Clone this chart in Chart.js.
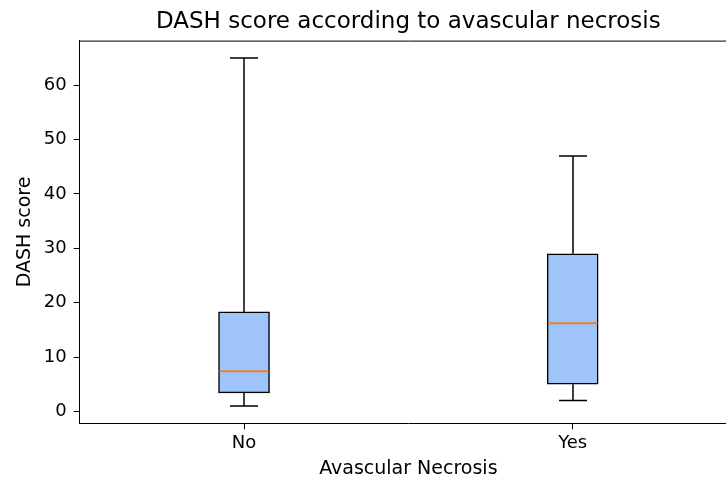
<!DOCTYPE html>
<html>
<head>
<meta charset="utf-8">
<script src="https://cdn.jsdelivr.net/npm/chart.js@4.4.1/dist/chart.umd.min.js"></script>
<style>
  html, body { margin: 0; padding: 0; background: #fff; overflow: hidden; }
  /* plot frame runs past the right edge of the window, like the reference crop */
  #wrap { width: 760px; height: 479px; }
</style>
</head>
<body>
<div id="wrap"><canvas id="chart"></canvas></div>
<script>
// box plot stats
const groups = ["No", "Yes"];
const whiskerLow = [1, 2];
const q1 = [3.4, 5.0];
const median = [7.4, 16.2];
const q3 = [18.3, 29.0];
const whiskerHigh = [65, 47];
const yTicks = [0, 10, 20, 30, 40, 50, 60];

const FONT = "'DejaVu Sans', sans-serif";
const BOX_W = 51;

// whiskers, caps, medians and the top spine
const boxExtras = {
  id: "boxExtras",
  afterDatasetsDraw(chart) {
    const { ctx, chartArea, scales: { x, y } } = chart;
    ctx.save();
    ctx.lineCap = "butt";
    groups.forEach((g, i) => {
      const cx = Math.round(x.getPixelForValue(i));
      const capHalf = 14;
      ctx.strokeStyle = "#000";
      ctx.lineWidth = 1.5;
      ctx.beginPath();
      // upper whisker + cap
      ctx.moveTo(cx, y.getPixelForValue(q3[i]));
      ctx.lineTo(cx, y.getPixelForValue(whiskerHigh[i]));
      ctx.moveTo(cx - capHalf, y.getPixelForValue(whiskerHigh[i]));
      ctx.lineTo(cx + capHalf, y.getPixelForValue(whiskerHigh[i]));
      // lower whisker + cap
      ctx.moveTo(cx, y.getPixelForValue(q1[i]));
      ctx.lineTo(cx, y.getPixelForValue(whiskerLow[i]));
      ctx.moveTo(cx - capHalf, y.getPixelForValue(whiskerLow[i]));
      ctx.lineTo(cx + capHalf, y.getPixelForValue(whiskerLow[i]));
      ctx.stroke();
      // median
      ctx.strokeStyle = "#f08030";
      ctx.lineWidth = 2;
      ctx.beginPath();
      ctx.moveTo(cx - BOX_W / 2 + 1, y.getPixelForValue(median[i]));
      ctx.lineTo(cx + BOX_W / 2 - 1, y.getPixelForValue(median[i]));
      ctx.stroke();
    });
    ctx.strokeStyle = "#000";
    ctx.lineWidth = 1;
    ctx.beginPath();
    ctx.moveTo(chartArea.left, chartArea.top + 0.5);
    ctx.lineTo(chartArea.right, chartArea.top + 0.5);
    ctx.moveTo(chartArea.right - 0.5, chartArea.top);
    ctx.lineTo(chartArea.right - 0.5, chartArea.bottom);
    ctx.stroke();
    ctx.restore();
  }
};

new Chart(document.getElementById("chart"), {
  type: "bar",
  data: {
    labels: groups,
    datasets: [{
      label: "DASH score",
      data: groups.map((g, i) => [q1[i], q3[i]]),
      backgroundColor: "#9fc4f9",
      borderColor: "#000",
      borderWidth: 1.5,
      borderSkipped: false,
      barThickness: BOX_W
    }]
  },
  options: {
    responsive: true,
    maintainAspectRatio: false,
    animation: false,
    layout: { padding: { left: 14, right: 23, top: 0, bottom: 0 } },
    plugins: {
      legend: { display: false },
      tooltip: { enabled: false },
      title: {
        display: true,
        text: "DASH score according to avascular necrosis",
        fullSize: false,
        color: "#000",
        font: { family: FONT, size: 23, weight: "normal" },
        padding: { top: 8, bottom: 5 }
      }
    },
    scales: {
      x: {
        type: "category",
        offset: true,
        grid: { display: true, drawOnChartArea: false, tickLength: 6, color: "#000", offset: false },
        border: { display: true, color: "#000", width: 1 },
        ticks: { color: "#000", font: { family: FONT, size: 18 }, padding: 3 },
        title: {
          display: true,
          text: "Avascular Necrosis",
          color: "#000",
          font: { family: FONT, size: 19, lineHeight: 1.0 },
          padding: { top: 3, bottom: 0 }
        }
      },
      y: {
        min: -2.2,
        max: 68.2,
        afterBuildTicks: (axis) => { axis.ticks = yTicks.map(v => ({ value: v })); },
        grid: { display: true, drawOnChartArea: false, tickLength: 6, color: "#000" },
        border: { display: true, color: "#000", width: 1 },
        ticks: { color: "#000", font: { family: FONT, size: 18 }, padding: 7 },
        title: {
          display: true,
          text: "DASH score",
          color: "#000",
          font: { family: FONT, size: 19 },
          padding: { top: 0, bottom: 0 }
        }
      }
    }
  },
  plugins: [boxExtras]
});
</script>
</body>
</html>
